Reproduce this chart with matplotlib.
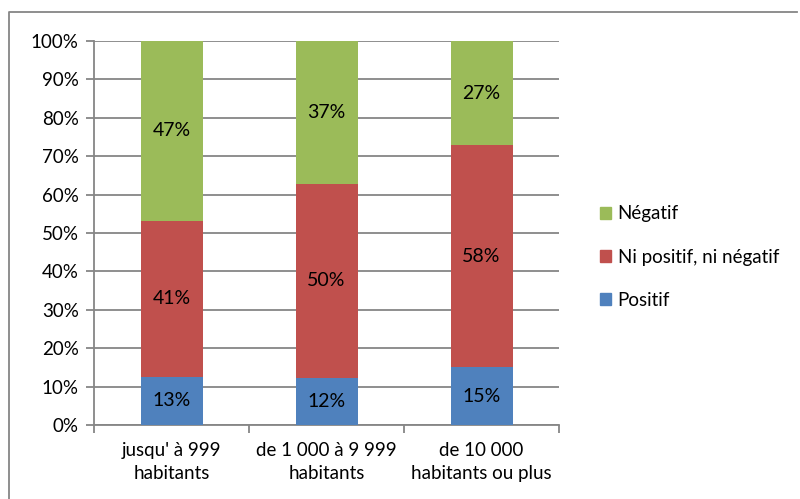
import matplotlib.pyplot as plt
import matplotlib.patches as mpatches
import numpy as np

plt.rcParams['font.family'] = ['Lato', 'DejaVu Sans']

categories = ["jusqu' à 999\nhabitants", "de 1 000 à 9 999\nhabitants", "de 10 000\nhabitants ou plus"]
positif = [12.6, 12.3, 15.0]
neutre = [40.6, 50.4, 57.8]
negatif = [46.8, 37.3, 27.2]

colors = {"Positif": "#4f81bd", "Ni positif, ni négatif": "#c0504d", "Négatif": "#9bbb59"}
grid_c = "#868686"

fig = plt.figure(figsize=(8, 4.99), dpi=100)
ax = fig.add_axes([94/800, 1 - 425/499, (559-94)/800, (425-41)/499])

x = np.arange(len(categories))
w = 0.4
bottom = np.zeros(len(categories))
for name, vals in [("Positif", positif), ("Ni positif, ni négatif", neutre), ("Négatif", negatif)]:
    bars = ax.bar(x, vals, w, bottom=bottom, color=colors[name], zorder=3)
    for b, v, y0 in zip(bars, vals, bottom):
        ax.text(b.get_x() + b.get_width()/2, y0 + v/2, f"{round(v):.0f}%",
                ha='center', va='center', fontsize=14, color='black', zorder=4)
    bottom += np.array(vals)

ax.set_xlim(-0.5, 2.5)
ax.set_ylim(0, 100)
ax.set_yticks(range(0, 101, 10))
ax.set_yticklabels([f"{v}%" for v in range(0, 101, 10)], fontsize=13.5)
ax.yaxis.grid(True, color=grid_c, linewidth=1.3, zorder=0)
ax.tick_params(axis='y', length=6, color=grid_c, width=1.3, pad=5)

ax.set_xticks(x)
ax.set_xticklabels(categories, fontsize=13.5, linespacing=1.45)
ax.tick_params(axis='x', length=0, pad=12)
ax.set_xticks([-0.5, 0.5, 1.5, 2.5], minor=True)
ax.tick_params(axis='x', which='minor', length=6, color=grid_c, width=1.3)

for s in ['top', 'right']:
    ax.spines[s].set_visible(False)
for s in ['left', 'bottom']:
    ax.spines[s].set_color(grid_c)
    ax.spines[s].set_linewidth(1.3)

handles = [mpatches.Patch(color=colors[n], label=n) for n in ["Négatif", "Ni positif, ni négatif", "Positif"]]
fig.legend(handles=handles, loc='center left', bbox_to_anchor=(583/800, 1 - 257/499),
           frameon=False, fontsize=13.5, handlelength=0.6, handleheight=0.6,
           handletextpad=0.35, labelspacing=1.4)

# chart border
fig.add_artist(plt.Line2D([9/800, 9/800, 797/800], [0, 1 - 12/499, 1 - 12/499],
                          transform=fig.transFigure, color=grid_c, linewidth=1.3))

fig.savefig("out.png", dpi=100)
